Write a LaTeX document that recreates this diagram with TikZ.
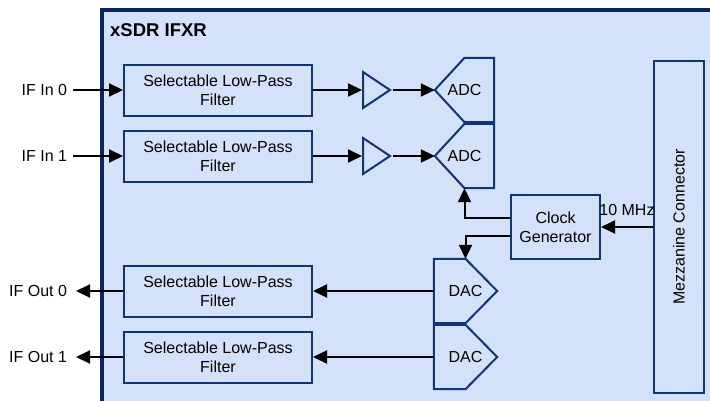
\documentclass[tikz,border=0pt]{standalone}
\usepackage{fontspec}
\setmainfont{Liberation Sans}
\usetikzlibrary{shapes.geometric,arrows.meta}
\definecolor{panel}{RGB}{212,225,250}
\definecolor{edge}{RGB}{18,52,112}
\definecolor{boardedge}{RGB}{10,38,98}
\tikzset{
  blk/.style={draw=edge, line width=2pt, fill=panel, align=center, inner sep=0pt},
  filt/.style={blk, minimum width=188pt, minimum height=51pt},
  amp/.style={draw=edge, line width=2pt, isosceles triangle, isosceles triangle stretches,
    minimum width=36pt, minimum height=27pt, inner sep=0pt},
  conv/.style={inner sep=0pt, minimum height=64pt},
  outl/.style={draw=edge, line width=2pt, line join=miter},
  arr/.style={line width=2pt, -{Triangle[length=14pt,width=13pt]}},
  lbl/.style={inner sep=0pt, outer sep=6pt}
}

\begin{document}
\begin{tikzpicture}[x=1pt, y=-1pt, font=\fontsize{16}{19}\selectfont]
  \useasboundingbox (0,0) rectangle (710,400);
  % board outline
  \draw[boardedge, line width=4pt, fill=panel] (101.5,10) rectangle (720,410);
  \node[anchor=base west, inner sep=0pt, font=\fontsize{18.5}{20}\selectfont\bfseries] (title) at (110,36) {xSDR IFXR};

  % receive path
  \node[lbl, anchor=east] (in0) at (73,90) {IF In 0};
  \node[lbl, anchor=east] (in1) at (73,156) {IF In 1};
  \node[filt] (lpfi0) at (218,90) {Selectable Low-Pass\\Filter};
  \node[filt] (lpfi1) at (218,156) {Selectable Low-Pass\\Filter};
  \node[amp, anchor=west] (amp0) at (362,90) {};
  \node[amp, anchor=west] (amp1) at (362,156) {};
  \node[conv, minimum width=59pt] (adc0) at (464.5,90) {ADC};
  \node[conv, minimum width=59pt] (adc1) at (464.5,156) {ADC};
  \foreach \n in {adc0,adc1}
    \draw[outl] (\n.west) -- (\n.north) -- (\n.north east) -- (\n.south east) -- (\n.south) -- cycle;
  \draw[arr] (in0) -- (lpfi0);
  \draw[arr] (in1) -- (lpfi1);
  \draw[arr] (lpfi0) -- (amp0);
  \draw[arr] (lpfi1) -- (amp1);
  \draw[arr] (amp0) -- (adc0);
  \draw[arr] (amp1) -- (adc1);

  % clock and connector
  \node[blk, minimum width=89pt, minimum height=64pt] (clk) at (555.5,227) {Clock\\Generator};
  \node[blk, minimum width=50pt, minimum height=332pt] (mezz) at (679,227) {\rotatebox{90}{Mezzanine Connector}};

  % transmit path
  \node[conv, minimum width=63pt] (dac0) at (465.5,291) {DAC};
  \node[conv, minimum width=63pt] (dac1) at (465.5,357) {DAC};
  \foreach \n in {dac0,dac1}
    \draw[outl] (\n.north west) -- (\n.north) -- (\n.east) -- (\n.south) -- (\n.south west) -- cycle;
  \node[filt] (lpfo0) at (218,291) {Selectable Low-Pass\\Filter};
  \node[filt] (lpfo1) at (218,357) {Selectable Low-Pass\\Filter};
  \node[lbl, anchor=east, outer sep=9pt] (out0) at (76,291) {IF Out 0};
  \node[lbl, anchor=east, outer sep=9pt] (out1) at (76,357) {IF Out 1};
  \draw[arr] (dac0) -- (lpfo0);
  \draw[arr] (dac1) -- (lpfo1);
  \draw[arr] (lpfo0) -- (out0);
  \draw[arr] (lpfo1) -- (out1);

  % clocking
  \draw[arr] (mezz) -- node[above=10pt, inner sep=0pt] (mhz) {10 MHz} (clk);
  \draw[arr] ([yshift=9pt]clk.west) -| (adc1.south);
  \draw[arr] ([yshift=-9pt]clk.west) -| (dac0.north);
\end{tikzpicture}
\end{document}
